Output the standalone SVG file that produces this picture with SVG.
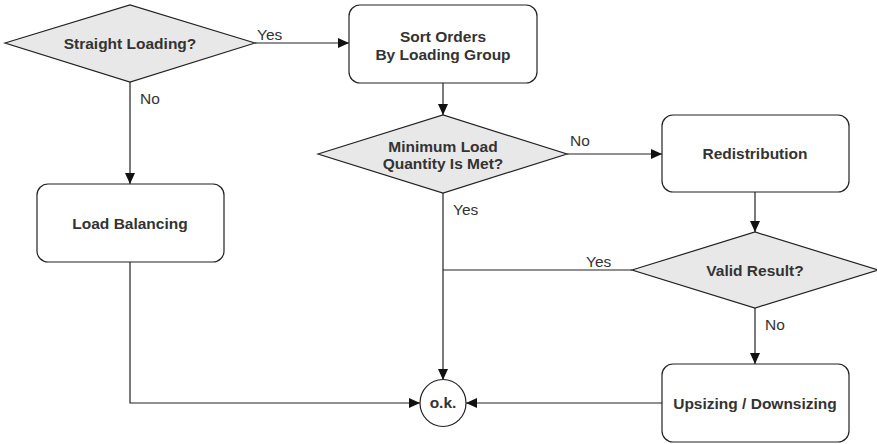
<svg xmlns="http://www.w3.org/2000/svg" width="877" height="444" viewBox="0 0 877 444">
  <defs>
    <marker id="arrow" markerWidth="12" markerHeight="10" refX="11" refY="5" orient="auto" markerUnits="userSpaceOnUse">
      <path d="M0,0 L11,5 L0,10 Z" fill="#111"/>
    </marker>
    <style>
      .box { fill: #ffffff; stroke: #222; stroke-width: 1.2; }
      .dec { fill: #e8e8e8; stroke: #222; stroke-width: 1.2; }
      .title { font-family: "Liberation Sans", Arial, sans-serif; font-size: 15.5px; font-weight: bold; fill: #333; text-anchor: middle; }
      .lbl { font-family: "Liberation Sans", Arial, sans-serif; font-size: 15.5px; fill: #333; }
      .conn { fill: none; stroke: #222; stroke-width: 1.2; }
    </style>
  </defs>
  <rect width="877" height="444" fill="#ffffff"/>

  <g id="connectors">
    <line class="conn" x1="255" y1="43" x2="349" y2="43" marker-end="url(#arrow)"/>
    <line class="conn" x1="130" y1="82" x2="130" y2="184" marker-end="url(#arrow)"/>
    <line class="conn" x1="443" y1="83" x2="443" y2="115" marker-end="url(#arrow)"/>
    <line class="conn" x1="567" y1="154" x2="662" y2="154" marker-end="url(#arrow)"/>
    <line class="conn" x1="755" y1="192" x2="755" y2="232" marker-end="url(#arrow)"/>
    <line class="conn" x1="632" y1="270" x2="443" y2="270"/>
    <line class="conn" x1="443" y1="193" x2="443" y2="380" marker-end="url(#arrow)"/>
    <line class="conn" x1="755" y1="308" x2="755" y2="364" marker-end="url(#arrow)"/>
    <polyline class="conn" points="130,262 130,403 420,403" marker-end="url(#arrow)"/>
    <line class="conn" x1="662" y1="403" x2="466" y2="403" marker-end="url(#arrow)"/>
    <text class="lbl" x="257" y="40">Yes</text>
    <text class="lbl" x="140" y="104">No</text>
    <text class="lbl" x="570" y="146">No</text>
    <text class="lbl" x="453" y="215">Yes</text>
    <text class="lbl" x="586" y="267">Yes</text>
    <text class="lbl" x="765" y="330">No</text>
  </g>

  <g id="straight-loading">
    <polygon class="dec" points="5,43 130,5 255,43 130,82"/>
    <text class="title" x="130" y="49">Straight Loading?</text>
  </g>

  <g id="sort-orders">
    <rect class="box" x="349" y="5" width="188" height="78" rx="11"/>
    <text class="title" x="443" y="42">Sort Orders</text>
    <text class="title" x="443" y="60">By Loading Group</text>
  </g>

  <g id="min-load">
    <polygon class="dec" points="318,154 443,115 567,154 443,193"/>
    <text class="title" x="443" y="152">Minimum Load</text>
    <text class="title" x="443" y="169">Quantity Is Met?</text>
  </g>

  <g id="redistribution">
    <rect class="box" x="662" y="115" width="187" height="77" rx="11"/>
    <text class="title" x="755" y="159">Redistribution</text>
  </g>

  <g id="valid-result">
    <polygon class="dec" points="632,270 755,232 878,270 755,308"/>
    <text class="title" x="755" y="276">Valid Result?</text>
  </g>

  <g id="load-balancing">
    <rect class="box" x="37" y="184" width="187" height="78" rx="11"/>
    <text class="title" x="130" y="229">Load Balancing</text>
  </g>

  <g id="upsizing">
    <rect class="box" x="662" y="364" width="187" height="78" rx="11"/>
    <text class="title" x="755" y="409">Upsizing / Downsizing</text>
  </g>

  <g id="ok">
    <ellipse class="box" cx="443" cy="403" rx="23" ry="23.5"/>
    <text class="title" x="443" y="408">o.k.</text>
  </g>
</svg>
